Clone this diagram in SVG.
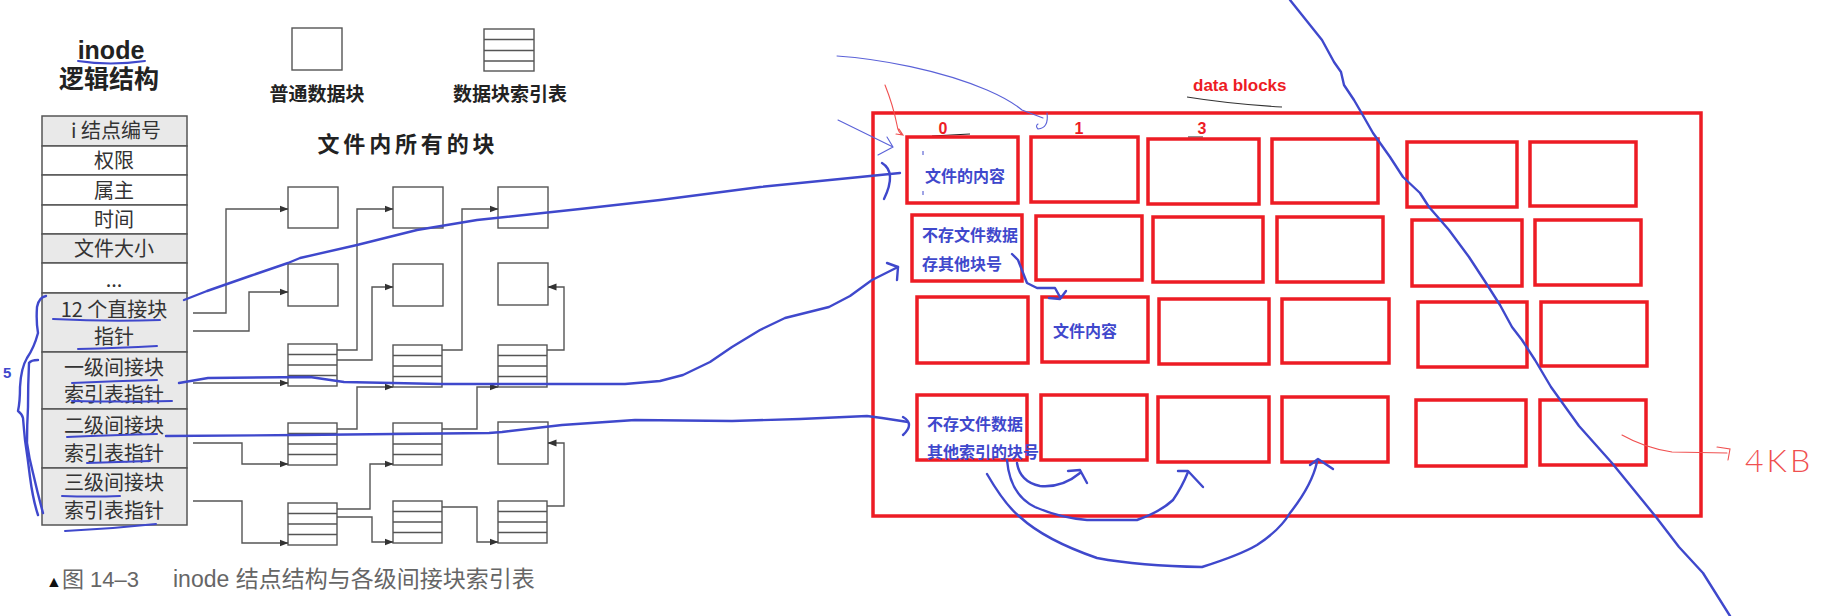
<svg xmlns="http://www.w3.org/2000/svg" width="1831" height="616" viewBox="0 0 1831 616">
<style>
.cg{fill:#e9e9e9;stroke:#555;stroke-width:1.5}
.cw{fill:#fff;stroke:#555;stroke-width:1.5}
.t{font-family:'Noto Sans CJK SC',sans-serif;font-size:20px;fill:#333;text-anchor:middle}
.hd{font-family:'Liberation Sans','Noto Sans CJK SC',sans-serif;font-weight:700;fill:#222;text-anchor:middle}
.blk{fill:#fff;stroke:#555;stroke-width:1.4}
.conn{fill:none;stroke:#555;stroke-width:1.4;marker-end:url(#ah)}
.rb{fill:none;stroke:#ED1C24;stroke-width:3.5}
.bt{font-family:'Noto Sans CJK SC',sans-serif;font-weight:700;font-size:16px;fill:#3F48CC}
.bl{fill:none;stroke:#3F48CC;stroke-width:2.4;stroke-linecap:round;stroke-linejoin:round}
.ul{fill:none;stroke:#3F48CC;stroke-width:2;stroke-linecap:round}
.thin{fill:none;stroke:#5b62d8;stroke-width:1.1;stroke-linecap:round}
.rthin{fill:none;stroke:#f05050;stroke-width:1.1;stroke-linecap:round}
.rt{font-family:'Liberation Sans','Noto Sans CJK SC',sans-serif;font-weight:700;fill:#ED1C24}
.cap{font-family:'Liberation Sans','Noto Sans CJK SC',sans-serif;fill:#666}
</style>
<defs>
<marker id="ah" markerWidth="9" markerHeight="8" refX="8.5" refY="4" orient="auto" markerUnits="userSpaceOnUse">
<path d="M0,0.5 L9,4 L0,7.5 z" fill="#333"/>
</marker>
<g id="idx">
<rect class="blk" x="0" y="0" width="49" height="42"/>
<path d="M0,10.5 H49 M0,21 H49 M0,31.5 H49" stroke="#555" stroke-width="1.4"/>
</g>
</defs>

<!-- headings and legend -->
<g id="heading">
<text class="hd" x="111" y="59" font-size="25">inode</text>
<text class="hd" x="109" y="88" font-size="25" font-family="'Noto Sans CJK SC',sans-serif">逻辑结构</text>
</g>
<g id="legend-plain">
<rect class="blk" x="292" y="28" width="50" height="42"/>
<text class="hd" x="317" y="101" font-size="19" font-family="'Noto Sans CJK SC',sans-serif">普通数据块</text>
</g>
<g id="legend-index">
<rect class="blk" x="484" y="29" width="50" height="42"/>
<path d="M484,39.5 H534 M484,50.5 H534 M484,61 H534" stroke="#555" stroke-width="1.4"/>
<text class="hd" x="510" y="101" font-size="19" font-family="'Noto Sans CJK SC',sans-serif">数据块索引表</text>
</g>
<g id="title-blocks">
<text class="hd" x="406" y="152" font-size="22" font-family="'Noto Sans CJK SC',sans-serif" textLength="177" lengthAdjust="spacing">文件内所有的块</text>
</g>

<!-- inode table -->
<g id="inode-table">
<rect class="cg" x="42" y="116" width="145" height="30"/>
<rect class="cw" x="42" y="146" width="145" height="29"/>
<rect class="cw" x="42" y="175" width="145" height="30"/>
<rect class="cw" x="42" y="205" width="145" height="29"/>
<rect class="cg" x="42" y="234" width="145" height="29"/>
<rect class="cw" x="42" y="263" width="145" height="30"/>
<rect class="cg" x="42" y="293" width="145" height="59"/>
<rect class="cg" x="42" y="352" width="145" height="57"/>
<rect class="cg" x="42" y="409" width="145" height="59"/>
<rect class="cg" x="42" y="468" width="145" height="57"/>
<text class="t" x="116" y="138">i 结点编号</text>
<text class="t" x="114" y="168">权限</text>
<text class="t" x="114" y="198">属主</text>
<text class="t" x="114" y="227">时间</text>
<text class="t" x="114" y="256">文件大小</text>
<text class="t" x="114" y="287">...</text>
<text class="t" x="114" y="317">12 个直接块</text>
<text class="t" x="114" y="344">指针</text>
<text class="t" x="114" y="375">一级间接块</text>
<text class="t" x="114" y="402">索引表指针</text>
<text class="t" x="114" y="433">二级间接块</text>
<text class="t" x="114" y="461">索引表指针</text>
<text class="t" x="114" y="490">三级间接块</text>
<text class="t" x="114" y="518">索引表指针</text>
</g>

<!-- file blocks -->
<g id="b-r1c1"><rect class="blk" x="288" y="187" width="50" height="41"/></g>
<g id="b-r1c2"><rect class="blk" x="393" y="187" width="50" height="41"/></g>
<g id="b-r1c3"><rect class="blk" x="498" y="187" width="50" height="41"/></g>
<g id="b-r2c1"><rect class="blk" x="288" y="264" width="50" height="42"/></g>
<g id="b-r2c2"><rect class="blk" x="393" y="264" width="50" height="42"/></g>
<g id="b-r2c3"><rect class="blk" x="498" y="263" width="50" height="42"/></g>
<g id="i-r3c1"><use href="#idx" x="288" y="344"/></g>
<g id="i-r3c2"><use href="#idx" x="393" y="345"/></g>
<g id="i-r3c3"><use href="#idx" x="498" y="345"/></g>
<g id="i-r4c1"><use href="#idx" x="288" y="423"/></g>
<g id="i-r4c2"><use href="#idx" x="393" y="423"/></g>
<g id="b-r4c3"><rect class="blk" x="498" y="422" width="50" height="42"/></g>
<g id="i-r5c1"><use href="#idx" x="288" y="503"/></g>
<g id="i-r5c2"><use href="#idx" x="393" y="501"/></g>
<g id="i-r5c3"><use href="#idx" x="498" y="501"/></g>

<g id="caption">
<text x="46" y="587" font-family="'Liberation Sans',sans-serif" font-size="16" fill="#111">▲</text>
<text class="cap" x="62" y="587" font-size="22">图 14–3</text>
<text class="cap" x="173" y="587" font-size="23">inode 结点结构与各级间接块索引表</text>
</g>

<!-- gray connectors -->
<g id="connectors">
<path class="conn" d="M193,313 H226 V209 H288"/>
<path class="conn" d="M193,331 H249 V292 H288"/>
<path class="conn" d="M193,383 H288"/>
<path class="conn" d="M193,443 H242 V464 H288"/>
<path class="conn" d="M193,501 H242 V543 H288"/>
<path class="conn" d="M337,350 H357 V209 H393"/>
<path class="conn" d="M337,360 H372 V287 H393"/>
<path class="conn" d="M442,350 H462 V209 H498"/>
<path class="conn" d="M547,350 H564 V287 H548"/>
<path class="conn" d="M337,429 H357 V387 H393"/>
<path class="conn" d="M442,429 H477 V387 H498"/>
<path class="conn" d="M337,509 H370 V464 H393"/>
<path class="conn" d="M337,517 H372 V542 H393"/>
<path class="conn" d="M442,507 H477 V542 H498"/>
<path class="conn" d="M547,506 H564 V443 H548"/>
</g>

<!-- data blocks area -->
<g id="data-blocks">
<rect class="rb" x="873" y="113" width="828" height="403"/>
<text class="rt" x="1193" y="91" font-size="17">data blocks</text>
<path d="M1187,97 Q1230,104 1282,107" fill="none" stroke="#333" stroke-width="1.2"/>
<text class="rt" x="943" y="134" font-size="16" text-anchor="middle">0</text>
<text class="rt" x="1079" y="134" font-size="16" text-anchor="middle">1</text>
<text class="rt" x="1202" y="134" font-size="16" text-anchor="middle">3</text>
<path d="M932,136 L970,134 M1067,137 L1090,137 M1188,137 L1203,137" fill="none" stroke="#222" stroke-width="1.2"/>
</g>
<g id="db-r1c1"><rect class="rb" x="907" y="137" width="111" height="66"/><text class="bt" x="925" y="182">文件的内容</text><path d="M923,151 V155 M923,191 V195" stroke="#3F48CC" stroke-width="1"/></g>
<g id="db-r1c2"><rect class="rb" x="1031" y="137" width="107" height="65"/></g>
<g id="db-r1c3"><rect class="rb" x="1148" y="139" width="111" height="65"/></g>
<g id="db-r1c4"><rect class="rb" x="1272" y="139" width="106" height="64"/></g>
<g id="db-r1c5"><rect class="rb" x="1407" y="142" width="110" height="65"/></g>
<g id="db-r1c6"><rect class="rb" x="1530" y="142" width="106" height="64"/></g>
<g id="db-r2c1"><rect class="rb" x="912" y="215" width="110" height="66"/><text class="bt" x="922" y="241">不存文件数据</text><text class="bt" x="922" y="270">存其他块号</text></g>
<g id="db-r2c2"><rect class="rb" x="1036" y="216" width="106" height="64"/></g>
<g id="db-r2c3"><rect class="rb" x="1153" y="217" width="110" height="65"/></g>
<g id="db-r2c4"><rect class="rb" x="1277" y="217" width="106" height="65"/></g>
<g id="db-r2c5"><rect class="rb" x="1412" y="220" width="110" height="66"/></g>
<g id="db-r2c6"><rect class="rb" x="1535" y="220" width="106" height="65"/></g>
<g id="db-r3c1"><rect class="rb" x="917" y="297" width="111" height="66"/></g>
<g id="db-r3c2"><rect class="rb" x="1042" y="297" width="106" height="65"/><text class="bt" x="1053" y="337">文件内容</text></g>
<g id="db-r3c3"><rect class="rb" x="1159" y="299" width="110" height="65"/></g>
<g id="db-r3c4"><rect class="rb" x="1282" y="299" width="107" height="64"/></g>
<g id="db-r3c5"><rect class="rb" x="1418" y="302" width="109" height="65"/></g>
<g id="db-r3c6"><rect class="rb" x="1541" y="302" width="106" height="64"/></g>
<g id="db-r4c1"><rect class="rb" x="917" y="395" width="110" height="65"/><text class="bt" x="927" y="430">不存文件数据</text><text class="bt" x="927" y="458">其他索引的块号</text></g>
<g id="db-r4c2"><rect class="rb" x="1041" y="395" width="106" height="65"/></g>
<g id="db-r4c3"><rect class="rb" x="1158" y="397" width="111" height="65"/></g>
<g id="db-r4c4"><rect class="rb" x="1282" y="397" width="106" height="65"/></g>
<g id="db-r4c5"><rect class="rb" x="1416" y="400" width="110" height="66"/></g>
<g id="db-r4c6"><rect class="rb" x="1540" y="400" width="106" height="65"/></g>

<!-- hand-drawn annotations -->
<g id="annotations">
<path class="ul" d="M78,61 Q110,66 145,61"/>
<path class="ul" d="M53,319 Q110,322 160,320"/>
<path class="ul" d="M78,349 Q120,348 157,346"/>
<path class="ul" d="M72,383 Q115,381 157,380"/>
<path class="ul" d="M72,401 Q120,402 172,401"/>
<path class="ul" d="M67,437 Q115,435 157,434"/>
<path class="ul" d="M87,463 Q120,462 150,461"/>
<path class="ul" d="M62,496 Q92,497 120,496"/>
<path class="ul" d="M65,531 Q110,529 156,524"/>
<path class="bl" d="M46,296 Q39,297 37,307 Q36,322 38,333 Q34,348 27,358 Q21,368 20,387 Q20,402 18,411 Q22,414 23,418 Q24,430 25,440 Q28,460 30,477 Q33,500 38,515"/>
<path class="bl" d="M38,360 Q31,360 29,363 Q28,385 28,407 Q27,425 27,443 Q29,458 33,473 Q38,495 43,513"/>
<text x="3" y="378" font-family="'Liberation Sans',sans-serif" font-weight="700" font-size="15" fill="#3F48CC">5</text>

<path class="bl" d="M184,300 L207,291 L250,276 L288,263 L300,258 L357,245 L417,230 L477,220 L580,209 L660,200 L760,187 L860,177 L900,173"/>
<path class="bl" d="M882,163 Q897,172 884,199"/>
<path class="bl" d="M179,383 L208,378 L310,377 L344,382 L441,384 L625,384 L660,381 L683,375 L710,362 L732,347 L760,330 L785,318 L829,307 L850,296 L872,280 L898,267"/>
<path class="bl" d="M887,263 L898,267 L897,280"/>
<path class="bl" d="M166,436 L300,435 L489,433 L502,432 L562,425 L635,420 L732,421 L800,419 L867,416 L882,418 L908,422"/>
<path class="bl" d="M903,417 Q915,424 903,435"/>

<path class="bl" d="M1012,254 L1018,260 L1027,283 L1037,288 L1055,288 L1060,297"/>
<path class="bl" d="M1049,298 L1060,299 L1066,291"/>
<path class="bl" d="M1017,463 Q1020,482 1040,486 Q1062,488 1080,473"/>
<path class="bl" d="M1068,471 L1080,470 L1087,483"/>
<path class="bl" d="M1007,460 Q1010,495 1035,507 Q1060,518 1087,520 L1137,520 Q1160,512 1173,500 Q1182,487 1188,472"/>
<path class="bl" d="M1178,471 L1188,471 L1203,487"/>
<path class="bl" d="M987,474 Q1005,505 1020,517 Q1045,540 1097,558 Q1140,566 1202,567 Q1240,555 1257,545 Q1280,530 1290,513 Q1312,485 1317,462"/>
<path class="bl" d="M1310,465 L1318,459 L1333,469"/>

<path class="bl" d="M1290,0 L1322,40 L1334,62 L1341,72 L1344,85 L1354,100 L1361,112 L1373,133 L1390,157 L1403,177 L1420,193 L1429,207 L1449,230 L1469,257 L1486,283 L1500,305 L1512,327 L1522,340 L1535,360 L1551,387 L1579,426 L1612,463 L1656,517 L1679,547 L1703,573 L1730,616" stroke-width="2"/>

<path class="thin" d="M837,56 C880,59 940,70 987,90 Q1010,100 1022,110 L1043,118"/>
<path class="thin" d="M1047,113 Q1049,128 1038,129 Q1035,126 1038,124"/>
<path class="thin" d="M838,120 L893,147 M887,137 L893,147 L878,155"/>
<path class="rthin" d="M885,85 Q893,105 897,125 Q898,133 903,135 M899,129 L903,135 L896,134"/>
<path class="rthin" d="M1622,435 Q1645,448 1672,452 L1727,453 M1717,447 L1730,449 L1728,460"/>
<text x="1745" y="472" font-family="Lato,'Liberation Sans',sans-serif" font-weight="300" font-size="32" fill="#f05050" letter-spacing="3">4KB</text>
</g>
</svg>
